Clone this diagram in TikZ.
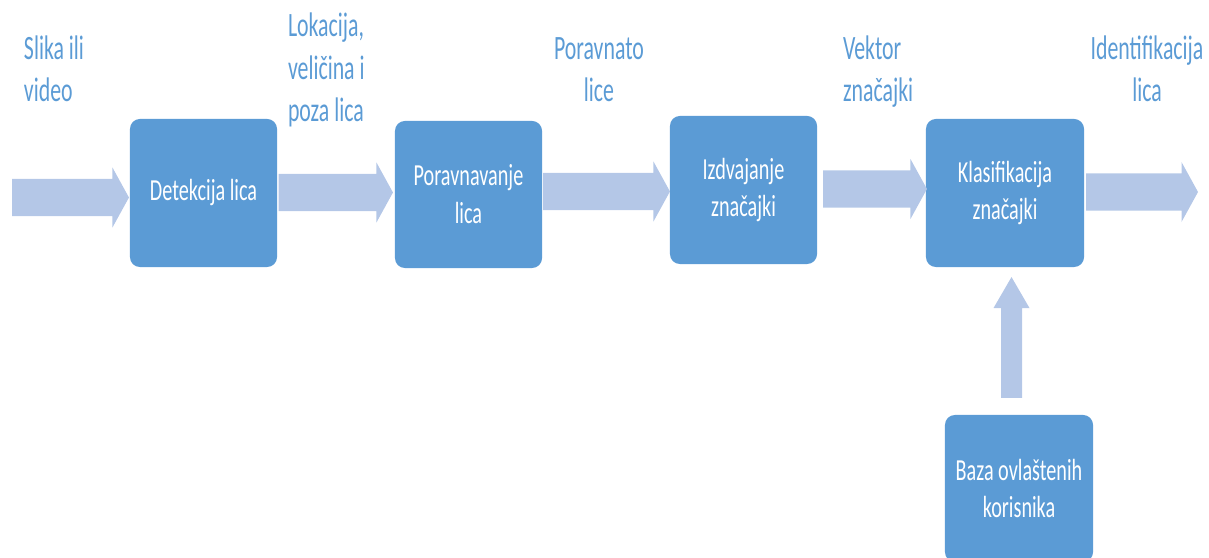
\documentclass[tikz,border=0pt]{standalone}
\usepackage{fontspec}
\setmainfont{Carlito}
\newfontfamily\labfont[FakeStretch=0.64]{Carlito}
\newfontfamily\boxfont[FakeStretch=0.66]{Carlito}
\usetikzlibrary{positioning}
\definecolor{boxc}{HTML}{5B9BD5}
\definecolor{arrowc}{HTML}{B4C7E7}
\definecolor{labc}{HTML}{5B9BD5}
\begin{document}
\begin{tikzpicture}[x=0.01cm,y=-0.01cm,
  stage/.style={fill=boxc, draw=none, rounded corners=1mm, inner sep=0pt, outer sep=0pt,
    text=white, align=center, font=\boxfont\fontsize{8.7}{10.8}\selectfont},
  lab/.style={inner sep=0pt, outer sep=0pt, text=labc, font=\labfont\fontsize{9.7}{12.2}\selectfont},
  harrow/.style={fill=arrowc, draw=none, to path={
    ([yshift=1.85mm]\tikztostart) -- ([xshift=-1.65mm,yshift=1.85mm]\tikztotarget)
    -- ([xshift=-1.65mm,yshift=3mm]\tikztotarget) -- (\tikztotarget)
    -- ([xshift=-1.65mm,yshift=-3mm]\tikztotarget) -- ([xshift=-1.65mm,yshift=-1.85mm]\tikztotarget)
    -- ([yshift=-1.85mm]\tikztostart) -- cycle}},
  varrow/.style={fill=arrowc, draw=none, to path={
    ([xshift=-1.05mm]\tikztostart) -- ([xshift=-1.05mm,yshift=-3.1mm]\tikztotarget)
    -- ([xshift=-1.8mm,yshift=-3.1mm]\tikztotarget) -- (\tikztotarget)
    -- ([xshift=1.8mm,yshift=-3.1mm]\tikztotarget) -- ([xshift=1.05mm,yshift=-3.1mm]\tikztotarget)
    -- ([xshift=1.05mm]\tikztostart) -- cycle}}
]
\useasboundingbox (0,0) rectangle (1209,558);

% stages
\node[stage, minimum width=1.47cm, minimum height=1.48cm] (b1) at (203.5,193) {Detekcija lica};
\node[stage, minimum width=1.47cm, minimum height=1.47cm] (b2) at (468.5,194.5) {Poravnavanje\\lica};
\node[stage, minimum width=1.47cm, minimum height=1.48cm] (b3) at (743.5,190) {Izdvajanje\\značajki};
\node[stage, minimum width=1.58cm, minimum height=1.48cm] (b4) at (1005,193) {Klasifikacija\\značajki};
\node[stage, minimum width=1.48cm, minimum height=1.47cm] (b5) at (1019,488.5) {Baza ovlaštenih\\korisnika};

% free ends
\coordinate (in) at (12,197.5);
\coordinate (out) at (1198,192);

% connectors
\path[harrow] (in) to ([xshift=-0.1mm,yshift=-0.45mm]b1.west);
\path[harrow] ([xshift=0.15mm,yshift=0.05mm]b1.east) to ([xshift=-0.2mm,yshift=0.2mm]b2.west);
\path[harrow] ([xshift=0.1mm,yshift=0.3mm]b2.east) to ([yshift=-0.15mm]b3.west);
\path[harrow] ([xshift=0.6mm,yshift=0.1mm]b3.east) to ([xshift=0.1mm,yshift=0.4mm]b4.west);
\path[harrow] ([xshift=0.2mm,yshift=0.1mm]b4.east) to (out);
\path[varrow] ([xshift=-0.75mm,yshift=1.7mm]b5.north) to ([xshift=0.65mm,yshift=-1mm]b4.south);

% labels (base anchor = baseline of the last line)
\node[lab, anchor=base west, align=left] (l1) at (24,102) {Slika ili\\video};
\node[lab, anchor=base west, align=left] (l2) at (288,122) {Lokacija,\\veličina i\\poza lica};
\node[lab, anchor=base, align=center] (l3) at (599,102) {Poravnato\\lice};
\node[lab, anchor=base west, align=left] (l4) at (843,102) {Vektor\\značajki};
\node[lab, anchor=base, align=center] (l5) at (1147,102) {Identifikacija\\lica};
\end{tikzpicture}
\end{document}
